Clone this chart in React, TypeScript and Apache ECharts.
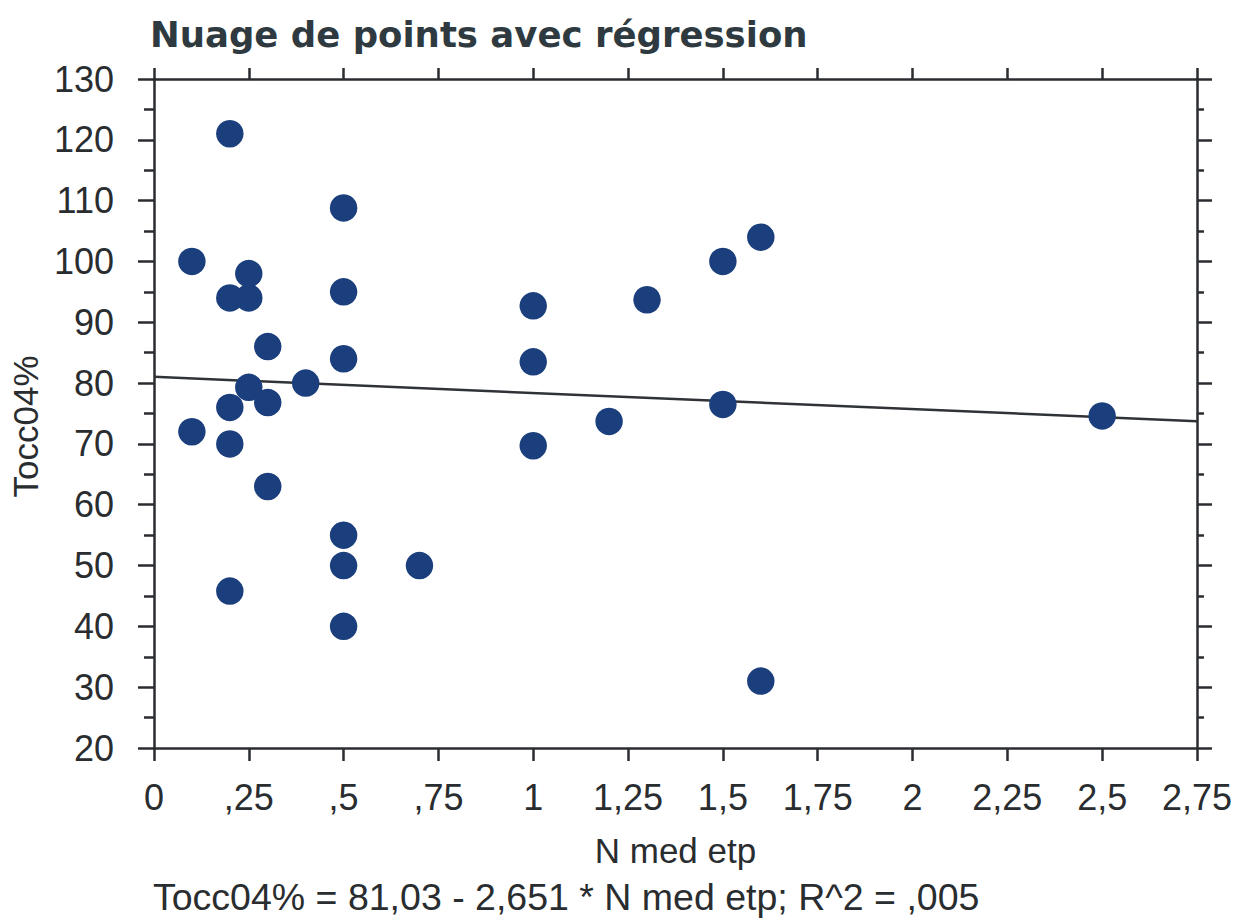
import React, { useEffect, useRef } from "react";
import * as echarts from "echarts";

const chartTitle = "Nuage de points avec régression";
const xName = "N med etp";
const yName = "Tocc04%";
const equationText = "Tocc04% = 81,03 - 2,651 * N med etp; R^2 = ,005";

const xTicks = [0, 0.25, 0.5, 0.75, 1, 1.25, 1.5, 1.75, 2, 2.25, 2.5, 2.75];
const xTickLabels = ["0", ",25", ",5", ",75", "1", "1,25", "1,5", "1,75", "2", "2,25", "2,5", "2,75"];

const nMedEtp = [
  0.1, 0.1, 0.2, 0.2, 0.25, 0.25, 0.3, 0.25, 0.2, 0.3, 0.2, 0.3, 0.2, 0.4,
  0.5, 0.5, 0.5, 0.5, 0.5, 0.5, 0.7, 1, 1, 1, 1.2, 1.3, 1.5, 1.5, 1.6, 1.6, 2.5,
];
const tocc04 = [
  100, 72, 121, 94, 98, 94, 86, 79.3, 76, 76.8, 70, 63, 45.8, 80,
  108.8, 95, 84, 55, 50, 40, 50, 92.7, 83.5, 69.7, 73.7, 93.7, 100, 76.5, 104, 31, 74.6,
];

const intercept = 81.03;
const slope = -2.651;
const xMin = 0;
const xMax = 2.75;

export default function App() {
  const ref = useRef<HTMLDivElement>(null);
  useEffect(() => {
    if (!ref.current) return;
    const chart = echarts.init(ref.current, null, { renderer: "svg" });
    const points = nMedEtp.map((x, i) => [x, tocc04[i]]);
    const fmtX = (v: number) => {
      const idx = xTicks.findIndex((t) => Math.abs(t - v) < 1e-6);
      return idx >= 0 ? xTickLabels[idx] : "";
    };
    const axisColor = "#2a2d30";
    const textColor = "#2a2d30";
    const labelFont = "'Liberation Sans', Arial, sans-serif";
    chart.setOption({
      animation: false,
      backgroundColor: "#ffffff",
      title: {
        text: chartTitle,
        left: 145,
        top: 11,
        textStyle: {
          fontFamily: "'DejaVu Sans', sans-serif",
          fontWeight: "bold",
          fontSize: 35.5,
          color: "#2e3a40",
        },
      },
      grid: { left: 153, right: 38, top: 79, bottom: 174 },
      xAxis: [
        {
          type: "value",
          min: xMin,
          max: xMax,
          interval: 0.25,
          position: "bottom",
          name: xName,
          nameLocation: "middle",
          nameGap: 85,
          nameTextStyle: { fontFamily: labelFont, fontSize: 35, color: textColor },
          axisLine: { show: true, onZero: false, lineStyle: { color: axisColor, width: 2.5 } },
          axisTick: { show: true, inside: false, length: 13, lineStyle: { color: axisColor, width: 2.5 } },
          axisLabel: {
            margin: 31,
            formatter: fmtX,
            fontFamily: labelFont,
            fontSize: 36,
            color: textColor,
          },
          splitLine: { show: false },
        },
        {
          type: "value",
          min: xMin,
          max: xMax,
          interval: 0.25,
          position: "top",
          axisLine: { show: true, onZero: false, lineStyle: { color: axisColor, width: 2.5 } },
          axisTick: { show: true, inside: false, length: 11, lineStyle: { color: axisColor, width: 2.5 } },
          axisLabel: { show: false },
          splitLine: { show: false },
        },
      ],
      yAxis: [
        {
          type: "value",
          min: 20,
          max: 130,
          interval: 10,
          position: "left",
          name: yName,
          nameLocation: "middle",
          nameRotate: 90,
          nameGap: 108,
          nameTextStyle: { fontFamily: labelFont, fontSize: 35, color: textColor, padding: [0, 26, 0, 0] },
          axisLine: { show: true, onZero: false, lineStyle: { color: axisColor, width: 2.5 } },
          axisTick: { show: true, inside: false, length: 16, lineStyle: { color: axisColor, width: 2.5 } },
          minorTick: { show: true, splitNumber: 2, length: 10, lineStyle: { color: axisColor, width: 2.5 } },
          axisLabel: { margin: 40, fontFamily: labelFont, fontSize: 36, color: textColor },
          splitLine: { show: false },
        },
        {
          type: "value",
          min: 20,
          max: 130,
          interval: 10,
          position: "right",
          axisLine: { show: true, onZero: false, lineStyle: { color: axisColor, width: 2.5 } },
          axisTick: { show: true, inside: false, length: 15, lineStyle: { color: axisColor, width: 2.5 } },
          minorTick: { show: true, splitNumber: 2, length: 7, lineStyle: { color: axisColor, width: 2.5 } },
          axisLabel: { show: false },
          splitLine: { show: false },
        },
      ],
      graphic: [
        {
          type: "text",
          left: 153,
          top: 878,
          style: {
            text: equationText,
            fontFamily: labelFont,
            fontSize: 37.5,
            fill: textColor,
          },
        },
      ],
      series: [
        {
          type: "line",
          xAxisIndex: 0,
          yAxisIndex: 0,
          data: [
            [xMin, intercept + slope * xMin],
            [xMax, intercept + slope * xMax],
          ],
          showSymbol: false,
          symbol: "none",
          lineStyle: { color: "#2f3236", width: 2.5 },
          z: 2,
        },
        {
          type: "scatter",
          xAxisIndex: 0,
          yAxisIndex: 0,
          data: points,
          symbol: "circle",
          symbolSize: 27.5,
          itemStyle: { color: "#1b3e7c", opacity: 1 },
          z: 3,
        },
      ],
    });
    return () => chart.dispose();
  }, []);
  return (
    <div
      ref={ref}
      style={{ position: "absolute", left: 0, top: 0, width: 1235, height: 922 }}
    />
  );
}
